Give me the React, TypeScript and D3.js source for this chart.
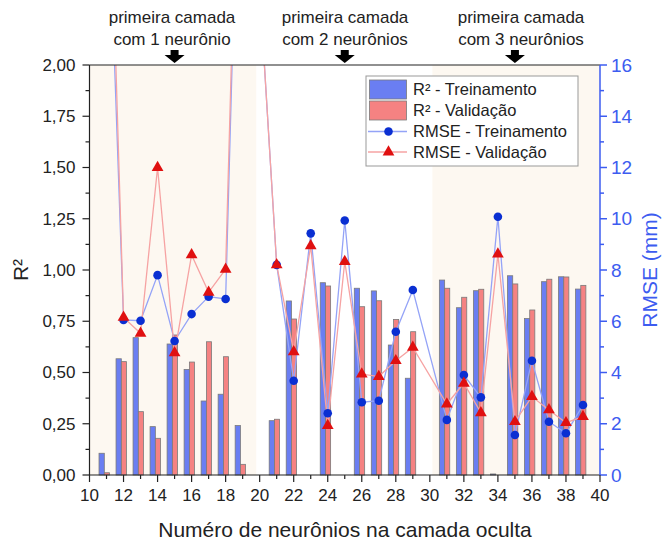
import React from "react";
import * as d3 from "d3";

const xs = [11,12,13,14,15,16,17,18,19,20,21,22,23,24,25,26,27,28,29,30,31,32,33,34,35,36,37,38,39];
const r2Train: (number|null)[] = [0.106,0.567,0.67,0.236,0.639,0.515,0.361,0.394,0.241,null,0.265,0.849,null,0.938,null,0.911,0.898,0.634,0.472,null,0.951,0.816,0.899,0.005,0.972,0.763,0.943,0.967,0.907];
const r2Val: (number|null)[] = [0.011,0.553,0.309,0.179,0.683,0.551,0.65,0.577,0.052,null,0.272,0.761,null,0.922,null,0.821,0.85,0.759,0.699,null,0.911,0.867,0.906,null,0.932,0.805,0.955,0.966,0.925];
const rmseTrain: (number|null)[] = [25,6.05,6.02,7.8,5.23,6.28,6.96,6.87,31,19,8.2,3.68,9.43,2.41,9.93,2.84,2.9,5.59,7.22,null,2.15,3.9,3.03,10.08,1.56,4.46,2.08,1.63,2.73];
const rmseVal: (number|null)[] = [28,6.15,5.53,12.0,4.77,8.59,7.13,8.03,32,19,8.2,4.81,8.94,1.93,8.33,3.94,3.84,4.46,4.98,null,2.77,3.58,2.43,8.62,2.08,3.06,2.54,2.04,2.28];
const leftTicks = [0,0.25,0.5,0.75,1,1.25,1.5,1.75,2];
const rightTicks = [0,2,4,6,8,10,12,14,16];
const xTicks = [10,12,14,16,18,20,22,24,26,28,30,32,34,36,38,40];
const shadeRanges = [[10,19.8],[30.15,40]];
const annotations = [
  { x: 15, cx: 172, lines: ["primeira camada","com 1 neurônio"] },
  { x: 25, cx: 345, lines: ["primeira camada","com 2 neurônios"] },
  { x: 35, cx: 521, lines: ["primeira camada","com 3 neurônios"] },
];
const legendItems = ["R² - Treinamento","R² - Validação","RMSE - Treinamento","RMSE - Validação"];

const FONT = "'Liberation Sans', Arial, sans-serif";
const BLUE_BAR = "#6a7ef2";
const RED_BAR = "#f58282";
const BLUE_LINE = "#94a3f7";
const RED_LINE = "#f6a3a3";
const BLUE_MK = "#0a2fd2";
const RED_MK = "#e01010";
const AXIS_BLUE = "#3d5cf0";

export default function App() {
  const L = 89.5, R = 600, T = 65, B = 475;
  const x = d3.scaleLinear().domain([10, 40]).range([L, R]);
  const yL = d3.scaleLinear().domain([0, 2]).range([B, T]);
  const yR = d3.scaleLinear().domain([0, 16]).range([B, T]);
  const fmt = (v: number) => v.toFixed(2).replace(".", ",");

  const lineGen = d3.line<[number, number|null]>()
    .defined(d => d[1] !== null)
    .x(d => x(d[0]))
    .y(d => yR(d[1] as number));
  const trainPts = xs.map((v, i) => [v, rmseTrain[i]] as [number, number|null]).filter(d => d[1] !== null);
  const valPts = xs.map((v, i) => [v, rmseVal[i]] as [number, number|null]).filter(d => d[1] !== null);
  const tri = d3.symbol().type(d3.symbolTriangle).size(60)() as string;

  const minorL = d3.range(0.125, 2, 0.25);
  const minorR = d3.range(1, 16, 2);
  const minorX = d3.range(11, 40, 2);

  return (
    <svg width={665} height={542} style={{ position: "absolute", left: 0, top: 0, background: "#fff" }} fontFamily={FONT}>
      <defs>
        <clipPath id="plot"><rect x={L} y={T} width={R - L} height={B - T} /></clipPath>
      </defs>
      {shadeRanges.map((r, i) => (
        <rect key={i} x={x(r[0])} y={T} width={x(r[1]) - x(r[0])} height={B - T} fill="#fdf8f1" />
      ))}
      {/* bars */}
      <g stroke="#7a7a7a" strokeWidth={0.8}>
        {xs.map((v, i) => r2Train[i] !== null ? (
          <rect key={"bt" + i} x={x(v - 0.44)} width={x(v - 0.13) - x(v - 0.44)} y={yL(r2Train[i] as number)} height={B - yL(r2Train[i] as number)} fill={BLUE_BAR} />
        ) : null)}
        {xs.map((v, i) => r2Val[i] !== null ? (
          <rect key={"bv" + i} x={x(v - 0.13)} width={x(v + 0.17) - x(v - 0.13)} y={yL(r2Val[i] as number)} height={B - yL(r2Val[i] as number)} fill={RED_BAR} />
        ) : null)}
      </g>
      {/* lines */}
      <g clipPath="url(#plot)">
        <path d={lineGen(trainPts) as string} fill="none" stroke={BLUE_LINE} strokeWidth={1.3} />
        <path d={lineGen(valPts) as string} fill="none" stroke={RED_LINE} strokeWidth={1.3} />
        {trainPts.map((d, i) => (
          <circle key={"ct" + i} cx={x(d[0])} cy={yR(d[1] as number)} r={4.3} fill={BLUE_MK} />
        ))}
        {valPts.map((d, i) => (
          <path key={"tv" + i} d={tri} transform={`translate(${x(d[0])},${yR(d[1] as number)})`} fill={RED_MK} />
        ))}
      </g>
      {/* axes */}
      <line x1={L} x2={R} y1={T} y2={T} stroke="#222" strokeWidth={1.2} />
      <line x1={L} x2={R} y1={B} y2={B} stroke="#222" strokeWidth={1.2} />
      <line x1={L} x2={L} y1={T} y2={B} stroke="#222" strokeWidth={1.2} />
      <line x1={R} x2={R} y1={T} y2={B} stroke={AXIS_BLUE} strokeWidth={1.5} />
      {leftTicks.map(t => (
        <g key={"l" + t}>
          <line x1={L - 7} x2={L} y1={yL(t)} y2={yL(t)} stroke="#222" strokeWidth={1.2} />
          <text x={L - 14} y={yL(t)} dy="0.35em" textAnchor="end" fontSize={17} fill="#222">{fmt(t)}</text>
        </g>
      ))}
      {minorL.map(t => (
        <line key={"lm" + t} x1={L - 4} x2={L} y1={yL(t)} y2={yL(t)} stroke="#222" strokeWidth={1.2} />
      ))}
      {rightTicks.map(t => (
        <g key={"r" + t}>
          <line x1={R} x2={R + 7} y1={yR(t)} y2={yR(t)} stroke={AXIS_BLUE} strokeWidth={1.5} />
          <text x={R + 11} y={yR(t)} dy="0.35em" textAnchor="start" fontSize={19} fill={AXIS_BLUE}>{t}</text>
        </g>
      ))}
      {minorR.map(t => (
        <line key={"rm" + t} x1={R} x2={R + 4} y1={yR(t)} y2={yR(t)} stroke={AXIS_BLUE} strokeWidth={1.5} />
      ))}
      {xTicks.map(t => (
        <g key={"x" + t}>
          <line x1={x(t)} x2={x(t)} y1={B} y2={B + 7} stroke="#222" strokeWidth={1.2} />
          <text x={x(t)} y={B + 26} textAnchor="middle" fontSize={17} fill="#222">{t}</text>
        </g>
      ))}
      {minorX.map(t => (
        <line key={"xm" + t} x1={x(t)} x2={x(t)} y1={B} y2={B + 4} stroke="#222" strokeWidth={1.2} />
      ))}
      {/* axis titles */}
      <text x={345} y={537} textAnchor="middle" fontSize={21} fill="#222">Numéro de neurônios na camada oculta</text>
      <text transform="translate(28,270) rotate(-90)" textAnchor="middle" fontSize={21} fill="#222">R²</text>
      <text transform="translate(657,270) rotate(-90)" textAnchor="middle" fontSize={21} fill={AXIS_BLUE}>RMSE (mm)</text>
      {/* annotations */}
      {annotations.map((a, i) => (
        <g key={"a" + i}>
          <text x={a.cx} y={23} textAnchor="middle" fontSize={17} fill="#222">{a.lines[0]}</text>
          <text x={a.cx} y={45} textAnchor="middle" fontSize={17} fill="#222">{a.lines[1]}</text>
          <path d={`M${x(a.x) - 4},50 h8 v5 h6 l-10,8 l-10,-8 h6 z`} fill="#000" />
        </g>
      ))}
      {/* legend */}
      <g>
        <rect x={366} y={76} width={212} height={90} fill="#fff" stroke="#999" strokeWidth={1} />
        <rect x={369.5} y={80} width={37} height={19} fill={BLUE_BAR} stroke="#7a7a7a" strokeWidth={0.8} />
        <rect x={369.5} y={101} width={37} height={19} fill={RED_BAR} stroke="#7a7a7a" strokeWidth={0.8} />
        <line x1={368} x2={407} y1={131.5} y2={131.5} stroke={BLUE_LINE} strokeWidth={1.3} />
        <circle cx={388.5} cy={131.5} r={4.3} fill={BLUE_MK} />
        <line x1={368} x2={407} y1={152} y2={152} stroke={RED_LINE} strokeWidth={1.3} />
        <path d={tri} transform="translate(388.5,152)" fill={RED_MK} />
        {legendItems.map((s, i) => (
          <text key={s} x={413} y={[89.5, 110, 131.5, 152][i]} dy="0.35em" fontSize={16.5} fill="#222">{s}</text>
        ))}
      </g>
    </svg>
  );
}
